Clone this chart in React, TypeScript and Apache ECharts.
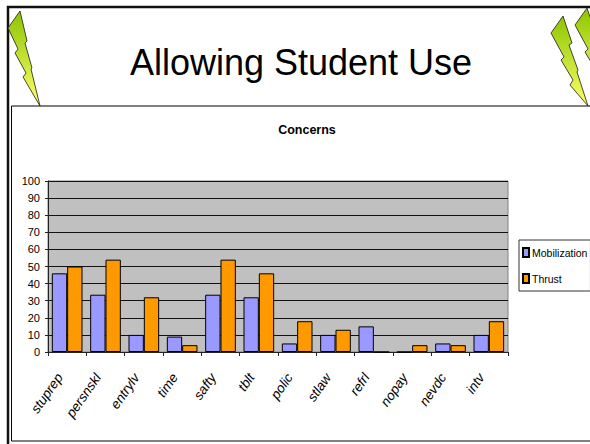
import React, { useEffect, useRef } from "react";
import * as echarts from "echarts";

const categories = ["stuprep", "persnskl", "entrylv", "time", "safty", "tblt", "polic", "stlaw", "refrl", "nopay", "nevdc", "intv"];
const mobilization = [46, 33.5, 10, 9, 33.5, 32, 5, 10, 15, 0, 5, 10];
const thrust = [50, 54, 32, 4, 54, 46, 18, 13, 0, 4, 4, 18];

const bolt = (pts: number[][], dx: number, dy: number) =>
  pts.map(([x, y]) => [x + dx, y + dy]);
const leftBolt = [[20, 11], [27, 41], [25, 43], [32, 68], [31, 69], [40, 106], [23, 77], [26, 73], [15, 53], [18, 49], [8, 28]];
const rightBolt = [[563, 16], [572, 43], [569, 45], [578, 70], [577, 72], [588, 106], [570, 85], [573, 80], [561, 60], [564, 57], [551, 33]];

const fill = () => new echarts.graphic.LinearGradient(0, 0, 0, 1, [
  { offset: 0, color: "#8fc400" },
  { offset: 0.25, color: "#a8d41c" },
  { offset: 1, color: "#ffff66" },
]);
const poly = (points: number[][]) => ({
  type: "polygon",
  shape: { points },
  style: { fill: fill(), stroke: "#1a1a1a", lineWidth: 0.8 },
});

export default function App() {
  const ref = useRef<HTMLDivElement>(null);
  useEffect(() => {
    const chart = echarts.init(ref.current!, undefined, { renderer: "svg" });
    const font = "Liberation Sans";
    chart.setOption({
      animation: false,
      backgroundColor: "#ffffff",
      title: [
        { text: "Allowing Student Use", left: 296, top: 39, textAlign: "center",
          textStyle: { fontFamily: font, fontSize: 36, fontWeight: "normal", color: "#000" } },
        { text: "Concerns", left: 302, top: 118, textAlign: "center",
          textStyle: { fontFamily: font, fontSize: 12.5, fontWeight: "bold", color: "#000" } },
      ],
      grid: { left: 48, right: 82, top: 181, bottom: 92, show: true, backgroundColor: "#c0c0c0", borderColor: "#808080", borderWidth: 1 },
      legend: {
        orient: "vertical", left: 519, top: 240, padding: [7, 3, 7, 3], itemGap: 15, itemWidth: 6, itemHeight: 9,
        icon: "rect", borderColor: "#333", borderWidth: 1, backgroundColor: "#fff",
        data: ["Mobilization", "Thrust"],
        textStyle: { fontFamily: font, fontSize: 10.5, color: "#000", padding: [0, 0, 0, -2] },
      },
      xAxis: {
        type: "category", data: categories,
        axisLine: { lineStyle: { color: "#222", width: 1 } },
        axisTick: { show: true, length: 4, alignWithLabel: false, lineStyle: { color: "#222" } },
        axisLabel: { rotate: 55, interval: 0, margin: 28, verticalAlign: "bottom", lineHeight: 18, fontStyle: "italic", fontFamily: font, fontSize: 13.5, color: "#000" },
      },
      yAxis: {
        type: "value", min: 0, max: 100, interval: 10,
        axisLine: { show: true, lineStyle: { color: "#222" } },
        axisTick: { show: true, length: 3, lineStyle: { color: "#222" } },
        axisLabel: { margin: 8, fontFamily: font, fontSize: 11, color: "#000" },
        splitLine: { show: true, lineStyle: { color: "#111", width: 1 } },
      },
      series: [
        { name: "Mobilization", type: "bar", data: mobilization, barGap: 0, barCategoryGap: "20%",
          itemStyle: { color: "#9999ff", borderColor: "#000", borderWidth: 1 } },
        { name: "Thrust", type: "bar", data: thrust,
          itemStyle: { color: "#ff9900", borderColor: "#000", borderWidth: 1 } },
      ],
      graphic: [
        { type: "rect", z: -10, shape: { x: 8, y: 7, width: 590, height: 440 }, style: { fill: "none", stroke: "#111", lineWidth: 2.5 } },
        { type: "rect", z: -10, shape: { x: 11.5, y: 106, width: 590, height: 335 }, style: { fill: "none", stroke: "#000", lineWidth: 1 } },
        poly(bolt(rightBolt, 24, -8)),
        poly(leftBolt),
        poly(rightBolt),
      ],
    });
    return () => chart.dispose();
  }, []);
  return <div ref={ref} style={{ position: "fixed", left: 0, top: 0, width: 590, height: 444 }} />;
}
